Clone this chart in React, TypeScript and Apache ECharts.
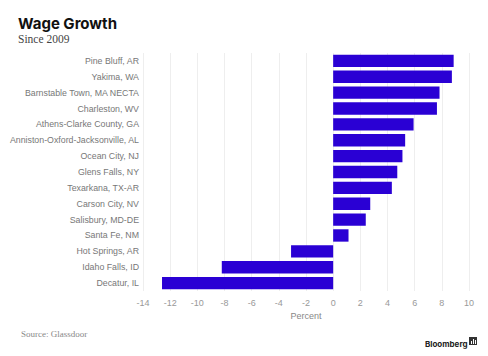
import React, { useEffect, useRef } from "react";
import * as echarts from "echarts";

const categories = [
  "Pine Bluff, AR",
  "Yakima, WA",
  "Barnstable Town, MA NECTA",
  "Charleston, WV",
  "Athens-Clarke County, GA",
  "Anniston-Oxford-Jacksonville, AL",
  "Ocean City, NJ",
  "Glens Falls, NY",
  "Texarkana, TX-AR",
  "Carson City, NV",
  "Salisbury, MD-DE",
  "Santa Fe, NM",
  "Hot Springs, AR",
  "Idaho Falls, ID",
  "Decatur, IL",
];
const values = [8.87, 8.74, 7.83, 7.64, 5.92, 5.3, 5.1, 4.72, 4.32, 2.73, 2.4, 1.13, -3.1, -8.2, -12.6];

const title = "Wage Growth";
const subtitle = "Since 2009";
const source = "Source: Glassdoor";
const axisName = "Percent";

export default function App() {
  const ref = useRef<HTMLDivElement>(null);
  useEffect(() => {
    document.body.style.margin = "0";
    const chart = echarts.init(ref.current!, null, { renderer: "svg" });
    chart.setOption({
      animation: false,
      backgroundColor: "#fff",
      title: [
        {
          text: title,
          left: 13,
          top: 11,
          textStyle: { fontFamily: "Inter, 'Liberation Sans', sans-serif", fontWeight: "bold", fontSize: 15, color: "#111" },
        },
        {
          text: subtitle,
          left: 13,
          top: 28,
          textStyle: { fontFamily: "'Liberation Serif', 'DejaVu Serif', serif", fontWeight: "normal", fontSize: 11.5, color: "#444" },
        },
        {
          text: source,
          left: 16,
          top: 324,
          textStyle: { fontFamily: "'Liberation Serif', serif", fontWeight: "normal", fontSize: 9, color: "#888" },
        },
        {
          text: "Bloomberg",
          left: 420,
          top: 335,
          textStyle: { fontFamily: "Inter, 'Liberation Sans', sans-serif", fontWeight: "bold", fontSize: 8, color: "#222" },
        },
      ],
      graphic: [
        { type: "rect", shape: { x: 469, y: 337, width: 8, height: 8 }, style: { fill: "#333" } },
        { type: "rect", shape: { x: 471, y: 341, width: 1, height: 3 }, style: { fill: "#fff" } },
        { type: "rect", shape: { x: 473, y: 339, width: 1, height: 5 }, style: { fill: "#fff" } },
        { type: "rect", shape: { x: 475, y: 340, width: 1, height: 4 }, style: { fill: "#fff" } },
      ],
      grid: { left: 143, right: 19, top: 53, bottom: 65, containLabel: false },
      xAxis: {
        type: "value",
        min: -14,
        max: 10,
        interval: 2,
        name: axisName,
        nameLocation: "middle",
        nameGap: 18,
        nameTextStyle: { fontFamily: "'Liberation Sans', sans-serif", fontSize: 9, color: "#888" },
        axisLine: { show: false },
        axisTick: { show: false },
        axisLabel: { fontFamily: "'Liberation Sans', sans-serif", fontSize: 9, color: "#999", margin: 7 },
        splitLine: { show: true, lineStyle: { color: "#eeeeee", width: 1 } },
      },
      yAxis: {
        type: "category",
        data: categories,
        inverse: true,
        axisLine: { show: false },
        axisTick: { show: false },
        axisLabel: { fontFamily: "'Liberation Sans', sans-serif", fontSize: 8.8, color: "#777", margin: 4 },
        splitLine: { show: false },
      },
      series: [
        {
          type: "bar",
          data: values,
          barCategoryGap: "22%",
          itemStyle: { color: "#2a00d4" },
        },
      ],
    });
    return () => chart.dispose();
  }, []);
  return <div ref={ref} style={{ width: 488, height: 356 }} />;
}
